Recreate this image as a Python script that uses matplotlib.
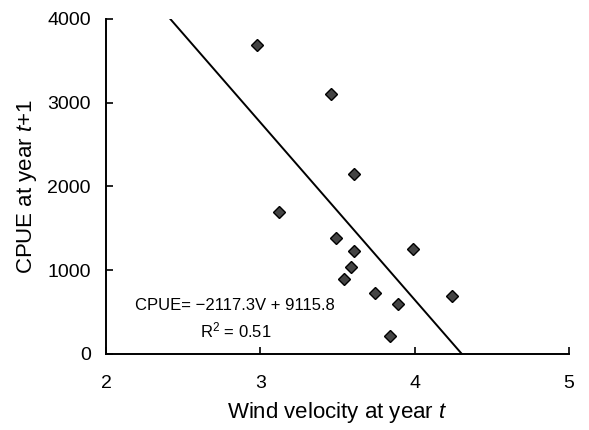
import matplotlib
matplotlib.use("Agg")
import matplotlib.pyplot as plt
import numpy as np

# 风速与下一年CPUE
wind = [2.98, 3.46, 3.61, 3.12, 3.49, 3.61, 3.59, 3.54, 3.74, 3.89, 3.84, 3.99, 4.24]
cpue = [3690, 3100, 2145, 1690, 1385, 1230, 1040, 895, 725, 595, 215, 1255, 695]

slope = -2117.3
intercept = 9115.8
r2 = 0.51

plt.rcParams['font.family'] = ['Liberation Sans', 'DejaVu Sans']
plt.rcParams['mathtext.fontset'] = 'custom'
plt.rcParams['mathtext.rm'] = 'Liberation Sans'
plt.rcParams['mathtext.it'] = 'Liberation Sans:italic'

fig = plt.figure(figsize=(5.89, 4.30), dpi=100)
ax = fig.add_axes([0.18, 0.177, 0.786, 0.779])

# 回归线：从 y=4000 到 y=0
v0 = (4000 - intercept) / slope
v1 = (0 - intercept) / slope
ax.plot([v0, v1], [slope * v0 + intercept, slope * v1 + intercept],
        color='black', linewidth=1.4)

ax.plot(wind, cpue, linestyle='none', marker='D', markersize=6,
        markerfacecolor='#444444', markeredgecolor='black', markeredgewidth=1.0)

ax.set_xlim(2, 5)
ax.set_ylim(0, 4000)
ax.set_xticks([2, 3, 4, 5])
ax.set_yticks([0, 1000, 2000, 3000, 4000])

for s in ['top', 'right']:
    ax.spines[s].set_visible(False)
for s in ['left', 'bottom']:
    ax.spines[s].set_linewidth(1.4)

ax.tick_params(axis='both', direction='in', length=5, width=1.2,
               labelsize=14, colors='black')
ax.tick_params(axis='x', pad=15)
ax.tick_params(axis='y', pad=11)

ax.set_xlabel('Wind velocity at year $\\it{t}$', fontsize=16, labelpad=6)
ax.set_ylabel('CPUE at year $\\it{t}$+1', fontsize=16, labelpad=6)

ax.text(2.19, 573, 'CPUE= \u22122117.3V + 9115.8', fontsize=12, va='center', ha='left')
ax.text(2.84, 275, 'R$^2$ = 0.51', fontsize=12, va='center', ha='center')

fig.savefig('out.png', dpi=100)
